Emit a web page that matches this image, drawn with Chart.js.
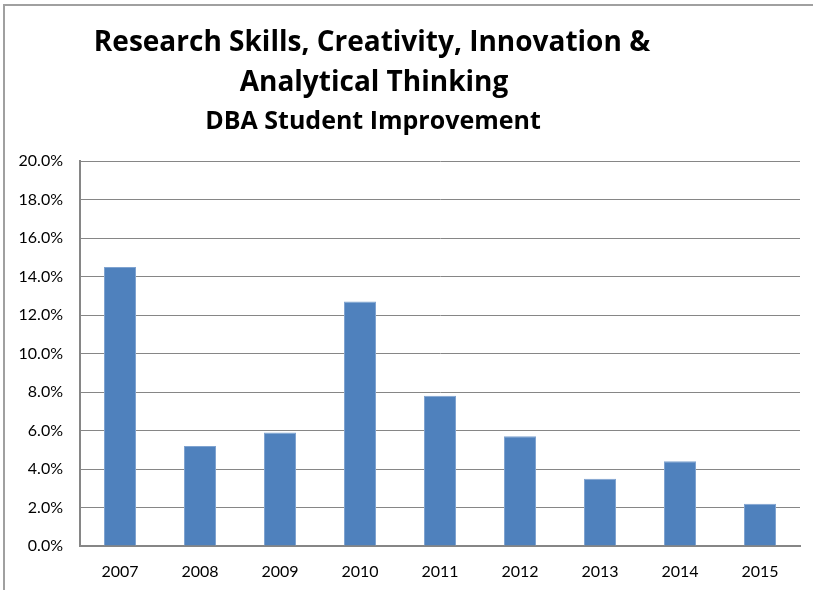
<!DOCTYPE html>
<html>
<head>
<meta charset="utf-8">
<script src="https://cdn.jsdelivr.net/npm/chart.js@4"></script>
<style>
  html, body { margin: 0; padding: 0; background: #fff; }
  #wrap { position: relative; width: 813px; height: 590px; }
  #frame { position: absolute; left: 3px; top: 4px; width: 820px; height: 600px; border-left: 2px solid #a0a0a0; border-top: 2px solid #a0a0a0; box-sizing: border-box; }
  canvas { position: absolute; left: 0; top: 0; }
</style>
</head>
<body>
<div id="wrap">
  <div id="frame"></div>
  <canvas id="c" width="813" height="590"></canvas>
</div>
<script>
const categories = ["2007", "2008", "2009", "2010", "2011", "2012", "2013", "2014", "2015"];
const improvement = [0.145, 0.052, 0.059, 0.127, 0.078, 0.057, 0.035, 0.044, 0.022];
const titleLines = ["Research Skills, Creativity, Innovation &", "Analytical Thinking"];
const subtitleText = "DBA Student Improvement";
const yMin = 0, yMax = 0.2, yStep = 0.02;

const FONT = "Lato, 'Open Sans', 'Liberation Sans', sans-serif";
const TFONT = "'Open Sans', Lato, sans-serif";

const titlePlugin = {
  id: 'customTitle',
  afterDraw(chart) {
    const ctx = chart.ctx;
    ctx.save();
    ctx.fillStyle = '#000';
    ctx.textAlign = 'center';
    ctx.textBaseline = 'middle';
    ctx.font = "bold 28px " + TFONT;
    ctx.fillText(titleLines[0], 372, 43);
    ctx.fillText(titleLines[1], 374, 83);
    ctx.font = "bold 25px " + TFONT;
    ctx.fillText(subtitleText, 373, 122);
    ctx.restore();
  }
};

new Chart(document.getElementById('c'), {
  type: 'bar',
  data: {
    labels: categories,
    datasets: [{
      data: improvement,
      backgroundColor: '#4F81BD',
      borderColor: '#7FA3D0',
      borderWidth: 1,
      barPercentage: 0.4,
      categoryPercentage: 1.0
    }]
  },
  options: {
    responsive: false,
    animation: false,
    devicePixelRatio: 1,
    layout: { padding: { left: 4, right: 13, top: 161, bottom: 0 } },
    plugins: { legend: { display: false }, tooltip: { enabled: false }, title: { display: false } },
    scales: {
      x: {
        grid: { display: false, drawTicks: false },
        border: { display: true, color: '#868686', width: 2 },
        ticks: { color: '#000', font: { family: FONT, size: 16 }, padding: 16 },
        afterFit(s) { s.height = 44; }
      },
      y: {
        min: yMin, max: yMax,
        grid: { color: '#868686', lineWidth: 1, drawTicks: false },
        border: { display: true, color: '#868686', width: 2 },
        ticks: {
          stepSize: yStep,
          color: '#000',
          font: { family: FONT, size: 16 },
          padding: 17,
          callback: v => (v * 100).toFixed(1) + '%'
        },
        afterFit(s) { s.width = 76; }
      }
    }
  },
  plugins: [titlePlugin]
});
</script>
</body>
</html>
